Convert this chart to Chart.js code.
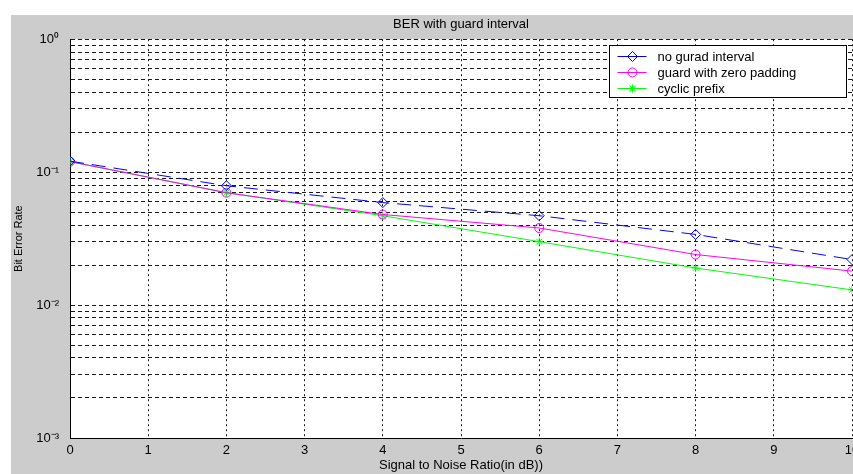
<!DOCTYPE html>
<html>
<head>
<meta charset="utf-8">
<script src="https://cdn.jsdelivr.net/npm/chart.js@4/dist/chart.umd.min.js"></script>
<style>
  html, body { margin: 0; padding: 0; background: #ffffff; }
  #wrap { width: 853px; height: 474px; }
</style>
</head>
<body>
<div id="wrap"><canvas id="c" width="853" height="474"></canvas></div>
<script>
// ---- data ----
const snrDb = [0, 2, 4, 6, 8, 10];
const berNoGuard = [0.121, 0.079, 0.059, 0.047, 0.034, 0.022];
const berZeroPad = [0.120, 0.070, 0.048, 0.038, 0.024, 0.018];
const berCyclic  = [0.120, 0.070, 0.047, 0.030, 0.019, 0.013];
const seriesLabels = ['no gurad interval', 'guard with zero padding', 'cyclic prefix'];
const xTickValues = [0, 1, 2, 3, 4, 5, 6, 7, 8, 9, 10];
const yMajorTicks = [0.001, 0.01, 0.1, 1];
const yTickLabels = ['10\u207B\u00B3', '10\u207B\u00B2', '10\u207B\u00B9', '10\u2070'];
const titleText = 'BER with guard interval';
const xTitle = 'Signal to Noise Ratio(in dB))';
const yTitle = 'Bit Error Rate';

// grid values for the log axis: 1..9 x each decade, plus the top decade
const yGridValues = [];
[0.001, 0.01, 0.1].forEach(d => { for (let m = 1; m <= 9; m++) yGridValues.push(m === 1 ? d : Number((m * d).toPrecision(3))); });
yGridValues.push(1);

const FONT = '"Liberation Sans", Arial, Helvetica, sans-serif';

const toPts = arr => arr.map((v, i) => ({ x: snrDb[i], y: v }));

const bgPlugin = {
  id: 'bg',
  beforeDraw(chart) {
    const { ctx, chartArea: a } = chart;
    ctx.save();
    ctx.fillStyle = '#ffffff';
    ctx.fillRect(0, 0, chart.width, chart.height);
    ctx.fillStyle = '#cccccc';
    ctx.fillRect(11, 15, chart.width - 11, chart.height - 15);
    ctx.fillStyle = '#ffffff';
    ctx.fillRect(a.left, a.top, a.right - a.left + 2, a.bottom - a.top);
    ctx.restore();
  }
};

function drawMarker(ctx, style, x, y, r, color) {
  ctx.save();
  ctx.strokeStyle = color;
  ctx.lineWidth = 1;
  ctx.setLineDash([]);
  ctx.beginPath();
  if (style === 'rectRot') {
    ctx.moveTo(x, y - r); ctx.lineTo(x + r, y); ctx.lineTo(x, y + r); ctx.lineTo(x - r, y); ctx.closePath();
  } else if (style === 'circle') {
    ctx.arc(x, y, r, 0, Math.PI * 2);
  } else if (style === 'star') {
    for (let k = 0; k < 4; k++) {
      const ang = k * Math.PI / 4;
      ctx.moveTo(x - Math.cos(ang) * r, y - Math.sin(ang) * r);
      ctx.lineTo(x + Math.cos(ang) * r, y + Math.sin(ang) * r);
    }
  }
  ctx.stroke();
  ctx.restore();
}

const legendPlugin = {
  id: 'boxLegend',
  afterDatasetsDraw(chart) {
    const { ctx, chartArea: a } = chart;
    const w = 237, h = 52;
    const x0 = Math.round(a.right - 6 - w) + 0.5;
    const y0 = Math.round(a.top + 6) + 0.5;
    ctx.save();
    ctx.fillStyle = '#ffffff';
    ctx.fillRect(x0, y0, w, h);
    ctx.strokeStyle = '#000000';
    ctx.lineWidth = 1;
    ctx.strokeRect(x0, y0, w, h);
    chart.data.datasets.forEach((ds, i) => {
      const y = y0 + 11 + i * 16;
      ctx.strokeStyle = ds.borderColor;
      ctx.lineWidth = 1;
      ctx.setLineDash([]);
      ctx.beginPath();
      ctx.moveTo(x0 + 8, y);
      ctx.lineTo(x0 + 37, y);
      ctx.stroke();
      drawMarker(ctx, ds.pointStyle, x0 + 23, y, ds.pointRadius, ds.borderColor);
      ctx.fillStyle = '#000000';
      ctx.font = '13px ' + FONT;
      ctx.textBaseline = 'middle';
      ctx.textAlign = 'left';
      ctx.fillText(ds.label, x0 + 48, y + 1);
    });
    ctx.restore();
  }
};

new Chart(document.getElementById('c'), {
  type: 'line',
  data: {
    datasets: [
      {
        label: seriesLabels[0], data: toPts(berNoGuard),
        borderColor: '#0000ff', backgroundColor: '#0000ff', borderWidth: 1,
        borderDash: [14, 8], pointStyle: 'rectRot', pointRadius: 5,
        pointBackgroundColor: 'rgba(0,0,0,0)', pointBorderColor: '#0000ff', pointBorderWidth: 1
      },
      {
        label: seriesLabels[1], data: toPts(berZeroPad),
        borderColor: '#ff00ff', backgroundColor: '#ff00ff', borderWidth: 1,
        pointStyle: 'circle', pointRadius: 4.5,
        pointBackgroundColor: 'rgba(0,0,0,0)', pointBorderColor: '#ff00ff', pointBorderWidth: 1
      },
      {
        label: seriesLabels[2], data: toPts(berCyclic),
        borderColor: '#00ff00', backgroundColor: '#00ff00', borderWidth: 1,
        pointStyle: 'star', pointRadius: 4,
        pointBackgroundColor: 'rgba(0,0,0,0)', pointBorderColor: '#00ff00', pointBorderWidth: 1
      }
    ]
  },
  options: {
    responsive: false,
    animation: false,
    devicePixelRatio: 1,
    layout: { autoPadding: false, padding: { left: 11, right: 1, top: 15, bottom: 0 } },
    elements: { line: { tension: 0 } },
    plugins: {
      legend: { display: false },
      tooltip: { enabled: false },
      title: {
        display: true, text: titleText, fullSize: false, color: '#000000',
        font: { family: FONT, size: 13, weight: 'normal' },
        padding: { top: 2, bottom: 6.6 }
      }
    },
    scales: {
      x: {
        type: 'linear', min: 0, max: 10,
        afterBuildTicks: s => { s.ticks = xTickValues.map(v => ({ value: v })); },
        afterFit: s => { s.height = 36; s.paddingLeft = 0; s.paddingRight = 0; },
        ticks: { color: '#000000', font: { family: FONT, size: 13 }, padding: 5, autoSkip: false, maxRotation: 0 },
        grid: { color: '#1a1a1a', lineWidth: 1, drawTicks: false },
        border: { display: true, color: '#000000', width: 1, dash: [2, 3] },
        title: { display: true, text: xTitle, color: '#000000', font: { family: FONT, size: 13 }, padding: { top: 0, bottom: 1 } }
      },
      y: {
        type: 'logarithmic', min: 0.001, max: 1,
        afterBuildTicks: s => { s.ticks = yGridValues.map(v => ({ value: v, major: yMajorTicks.includes(v) })); },
        afterFit: s => { s.width = 59; s.paddingTop = 0; s.paddingBottom = 0; },
        ticks: {
          color: '#000000', font: { family: FONT, size: 13 }, padding: 11, autoSkip: false,
          callback: v => { const i = yMajorTicks.indexOf(v); return i >= 0 ? yTickLabels[i] : ''; }
        },
        grid: { color: '#1a1a1a', lineWidth: 1, drawTicks: false },
        border: { display: true, color: '#000000', width: 1, dash: [4, 3] },
        title: { display: true, text: yTitle, color: '#000000', font: { family: FONT, size: 11 }, padding: { top: 1.5, bottom: 0 } }
      }
    }
  },
  plugins: [bgPlugin, legendPlugin]
});
</script>
</body>
</html>
